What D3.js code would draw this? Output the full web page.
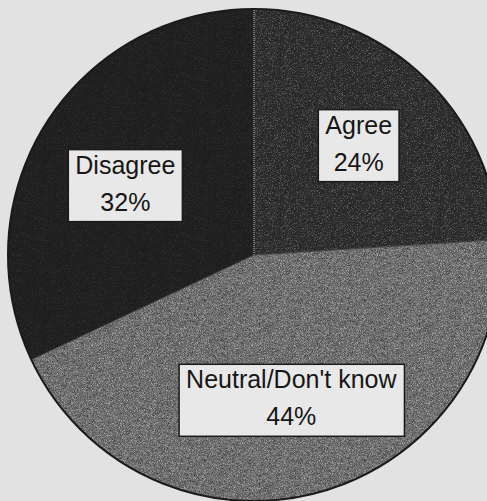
<!DOCTYPE html>
<html>
<head>
<meta charset="utf-8">
<script src="https://cdn.jsdelivr.net/npm/d3@7"></script>
<style>
  html, body { margin: 0; padding: 0; background: #e2e2e2; }
  svg { display: block; }
</style>
</head>
<body>
<svg id="chart" width="487" height="501"></svg>
<script>
// Survey responses, clockwise from 12 o'clock
const categories = ["Agree", "Neutral/Don't know", "Disagree"];
const values = [24, 44, 32];
const percentLabels = ["24%", "44%", "32%"];
const sliceColors = ["#2c2c2c", "#6e6e6e", "#1f1f1f"];
const grainStrength = [0.3, 0.45, 0.08];

const width = 487, height = 501;
const cx = 254, cy = 255, radius = 246;

const svg = d3.select("#chart");
const defs = svg.append("defs");

// Halftone-like grain: light and dark specks on top of a flat fill
function makeGrain(id, strength, seed) {
  const f = defs.append("filter").attr("id", id)
    .attr("x", 0).attr("y", 0).attr("width", 1).attr("height", 1)
    .attr("color-interpolation-filters", "sRGB");
  f.append("feTurbulence").attr("type", "fractalNoise")
    .attr("baseFrequency", 1.6).attr("numOctaves", 1).attr("seed", seed).attr("result", "noise");
  f.append("feColorMatrix").attr("in", "noise").attr("type", "matrix")
    .attr("values", `0 0 0 0 1  0 0 0 0 1  0 0 0 0 1  ${4 * strength} 0 0 0 ${-2.1 * strength}`)
    .attr("result", "light");
  f.append("feColorMatrix").attr("in", "noise").attr("type", "matrix")
    .attr("values", `0 0 0 0 0  0 0 0 0 0  0 0 0 0 0  ${-4 * strength} 0 0 0 ${1.9 * strength}`)
    .attr("result", "dark");
  const m = f.append("feMerge").attr("result", "mix");
  m.append("feMergeNode").attr("in", "SourceGraphic");
  m.append("feMergeNode").attr("in", "light");
  m.append("feMergeNode").attr("in", "dark");
  f.append("feComposite").attr("in", "mix").attr("in2", "SourceGraphic").attr("operator", "in");
}
grainStrength.forEach((s, i) => makeGrain("grain" + i, s, 7 + i * 5));

const g = svg.append("g").attr("transform", `translate(${cx},${cy})`);

const data = categories.map((c, i) => ({ category: c, value: values[i], label: percentLabels[i], idx: i }));

const pie = d3.pie().sort(null).value(d => d.value).startAngle(0).endAngle(2 * Math.PI);
const arcs = pie(data);

const arc = d3.arc().innerRadius(0).outerRadius(radius);
const labelArc = d3.arc().innerRadius(150).outerRadius(150);

g.selectAll("path.slice")
  .data(arcs)
  .join("path")
  .attr("class", "slice")
  .attr("d", arc)
  .attr("fill", d => sliceColors[d.data.idx])
  .attr("filter", d => `url(#grain${d.data.idx})`);

// Outline of the disc
g.append("circle").attr("r", radius)
  .attr("fill", "none").attr("stroke", "#1a1a1a").attr("stroke-width", 2);

// Slice boundaries (the 12 o'clock one prints as a light dotted seam)
g.selectAll("path.edge")
  .data(arcs)
  .join("path")
  .attr("class", "edge")
  .attr("d", d => {
    const a = d.startAngle;
    return `M0,0L${radius * Math.sin(a)},${-radius * Math.cos(a)}`;
  })
  .attr("stroke", (d, i) => i === 0 ? "#8a8a8a" : "#3a3a3a")
  .attr("stroke-dasharray", (d, i) => i === 0 ? "1,1" : null)
  .attr("stroke-width", (d, i) => i === 0 ? 1.5 : 1);

// Boxed labels at the slice centroids
const labelNudge = [[2, 0], [0, 0], [-2, 11]];
const labels = g.selectAll("g.label")
  .data(arcs)
  .join("g")
  .attr("class", "label")
  .attr("transform", d => {
    const [x, y] = labelArc.centroid(d);
    const [nx, ny] = labelNudge[d.data.idx];
    return `translate(${x + nx},${y + ny})`;
  });

labels.each(function (d) {
  const lg = d3.select(this);
  const rect = lg.append("rect");
  const t = lg.append("text")
    .attr("text-anchor", "middle")
    .attr("font-family", "'Liberation Sans', Arial, sans-serif")
    .attr("font-size", 25)
    .attr("fill", "#161616");
  t.append("tspan").attr("x", 0).attr("y", -12).text(d.data.category);
  t.append("tspan").attr("x", 0).attr("y", 25).text(d.data.label);
  const bb = t.node().getBBox();
  const padX = 7;
  rect.attr("x", bb.x - padX)
    .attr("y", -36)
    .attr("width", bb.width + padX * 2)
    .attr("height", 72)
    .attr("fill", "#e8e8e8")
    .attr("stroke", "#1a1a1a")
    .attr("stroke-width", 1.5);
});
</script>
</body>
</html>
